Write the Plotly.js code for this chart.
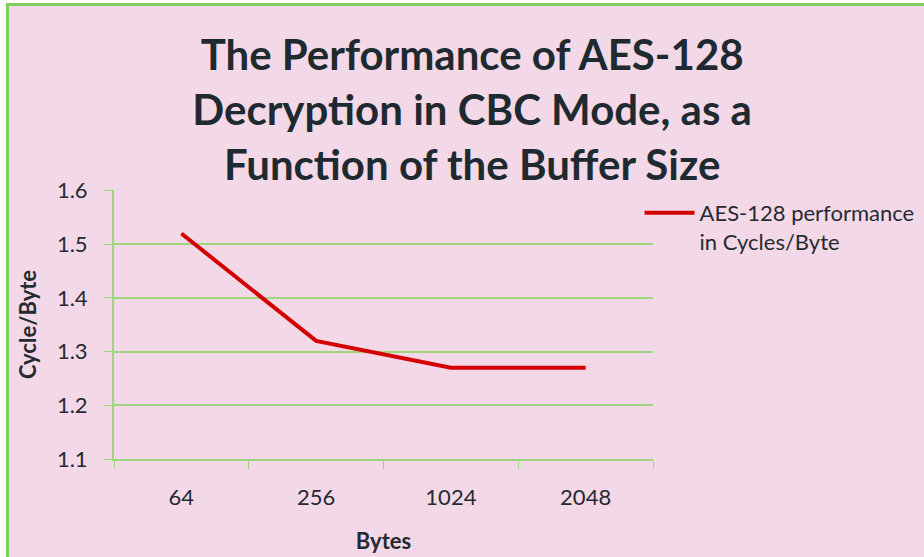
<!DOCTYPE html>
<html>
<head>
<meta charset="utf-8">
<script src="https://cdn.plot.ly/plotly-3.0.1.min.js"></script>
<style>
  html, body { margin: 0; padding: 0; background: #ffffff; overflow: hidden; }
  #frame {
    position: absolute; left: 6px; top: 3px;
    border-left: 3px solid #7fcf5f; border-top: 3px solid #7fcf5f;
    background: #f3d9e7;
  }
  #plotDiv { width: 930px; height: 560px; }
</style>
</head>
<body>
<div id="frame"><div id="plotDiv"></div></div>
<script>
let bufferSizes = ["64", "256", "1024", "2048"];
let cyclesPerByte = [1.52, 1.32, 1.27, 1.27];
let yTicks = [1.1, 1.2, 1.3, 1.4, 1.5, 1.6];

let gridGreen = "#9ed67e";
let textDark = "#262a30";

let data = [
  {
    x: bufferSizes,
    y: cyclesPerByte,
    type: "scatter",
    mode: "lines",
    name: "AES-128 performance<br>in Cycles/Byte",
    line: { color: "#d40000", width: 4 }
  }
];

let layout = {
  width: 930,
  height: 560,
  paper_bgcolor: "#f3d9e7",
  plot_bgcolor: "#f3d9e7",
  font: { family: "Lato, 'Open Sans', sans-serif", color: textDark },
  margin: { l: 105, r: 286, t: 184, b: 107, autoexpand: false },
  title: {
    text: "<b>The Performance of AES-128<br>Decryption in CBC Mode, as a<br>Function of the Buffer Size</b>",
    font: { size: 42, color: "#1f2a30" },
    x: 0.498,
    xanchor: "center",
    yref: "container",
    y: 0.885,
    yanchor: "middle"
  },
  xaxis: {
    type: "category",
    range: [-0.5, 3.5],
    tickson: "boundaries",
    ticks: "outside",
    ticklen: 8,
    tickcolor: gridGreen,
    showline: true,
    linecolor: gridGreen,
    linewidth: 2,
    showgrid: false,
    tickfont: { size: 22 },
    ticklabelstandoff: 18,
    title: { text: "<b>Bytes</b>", font: { size: 22 }, standoff: 24 }
  },
  yaxis: {
    range: [1.1, 1.601],
    tickvals: yTicks,
    tickformat: ".1f",
    ticks: "outside",
    ticklen: 8,
    tickcolor: gridGreen,
    showline: true,
    linecolor: gridGreen,
    linewidth: 2,
    showgrid: true,
    gridcolor: gridGreen,
    gridwidth: 1.5,
    zeroline: false,
    tickfont: { size: 22 },
    ticklabelstandoff: 12,
    title: { text: "<b>Cycle/Byte</b>", font: { size: 22 }, standoff: 14 }
  },
  showlegend: true,
  legend: {
    xref: "container",
    x: 0.678,
    xanchor: "left",
    yref: "container",
    y: 0.668,
    yanchor: "top",
    valign: "top",
    itemwidth: 50,
    font: { size: 22, color: textDark },
    bgcolor: "rgba(0,0,0,0)"
  }
};

Plotly.newPlot("plotDiv", data, layout, { displayModeBar: false });
</script>
</body>
</html>
